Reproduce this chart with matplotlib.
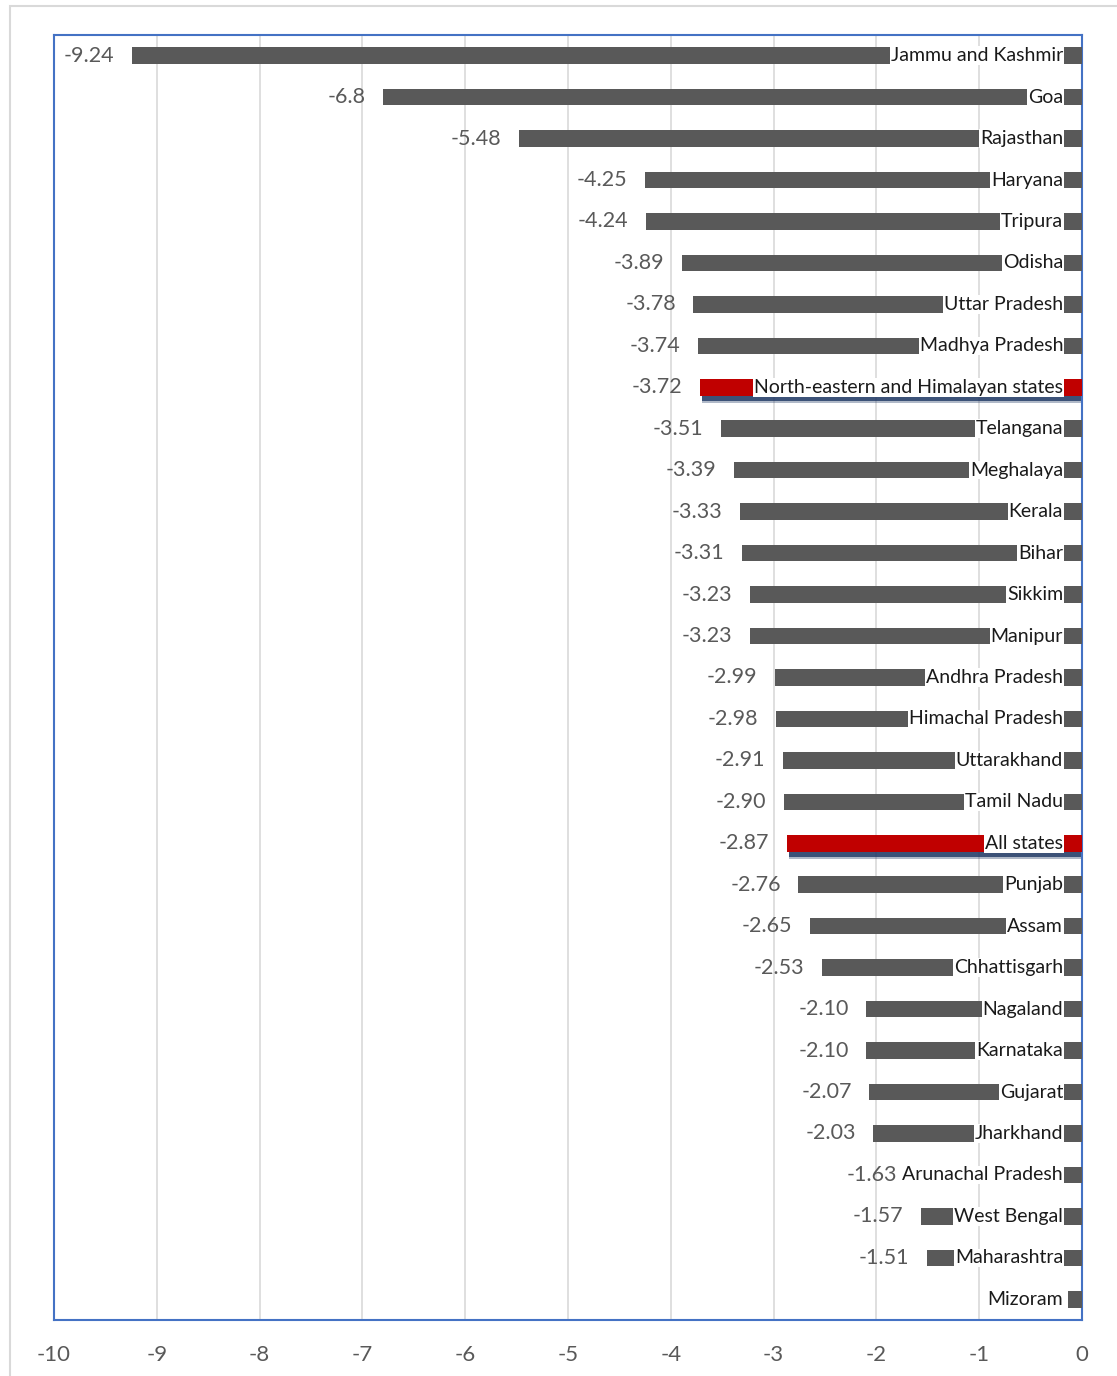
import numpy as np
from matplotlib import pyplot as plt
from matplotlib.patches import Rectangle

states = ['Jammu and Kashmir', 'Goa', 'Rajasthan', 'Haryana', 'Tripura', 'Odisha',
          'Uttar Pradesh', 'Madhya Pradesh', 'North-eastern and Himalayan states',
          'Telangana', 'Meghalaya', 'Kerala', 'Bihar', 'Sikkim', 'Manipur',
          'Andhra Pradesh', 'Himachal Pradesh', 'Uttarakhand', 'Tamil Nadu',
          'All states', 'Punjab', 'Assam', 'Chhattisgarh', 'Nagaland', 'Karnataka',
          'Gujarat', 'Jharkhand', 'Arunachal Pradesh', 'West Bengal', 'Maharashtra',
          'Mizoram']
values = [-9.24, -6.8, -5.48, -4.25, -4.24, -3.89, -3.78, -3.74, -3.72, -3.51,
          -3.39, -3.33, -3.31, -3.23, -3.23, -2.99, -2.98, -2.91, -2.90, -2.87,
          -2.76, -2.65, -2.53, -2.10, -2.10, -2.07, -2.03, -1.63, -1.57, -1.51,
          -0.14]
value_labels = ['-9.24', '-6.8', '-5.48', '-4.25', '-4.24', '-3.89', '-3.78', '-3.74',
                '-3.72', '-3.51', '-3.39', '-3.33', '-3.31', '-3.23', '-3.23', '-2.99',
                '-2.98', '-2.91', '-2.90', '-2.87', '-2.76', '-2.65', '-2.53', '-2.10',
                '-2.10', '-2.07', '-2.03', '-1.63', '-1.57', '-1.51', '']
highlight = ['North-eastern and Himalayan states', 'All states']

plt.rcParams['font.family'] = ['Lato', 'DejaVu Sans']
plt.rcParams['axes.unicode_minus'] = False

fig = plt.figure(figsize=(11.17, 13.76), dpi=100)
ax = fig.add_axes([0.0483, 0.0407, 0.9204, 0.9339])

# outer light frame
fig.patches.append(Rectangle((0.009, -0.01), 1.1, 1.0056, transform=fig.transFigure,
                             fill=False, edgecolor='#D9D9D9', linewidth=1.5))

y = np.arange(len(states))
colors = ['#C00000' if s in highlight else '#595959' for s in states]

# shadow under the highlighted bars
for i, s in enumerate(states):
    if s in highlight:
        ax.barh(i + 0.2, values[i] + 0.02, height=0.38, color='#1F3864', alpha=0.35, zorder=2)
        ax.barh(i + 0.15, values[i] + 0.02, height=0.38, color='#1F3864', alpha=0.8, zorder=2)

ax.barh(y, values, height=0.4, color=colors, zorder=3)

for i, s in enumerate(states):
    ax.text(-0.185, i, s, ha='right', va='center', fontsize=14, color='#1a1a1a', zorder=5,
            bbox=dict(facecolor='white', edgecolor='none', pad=0.5))
    if value_labels[i]:
        ax.text(values[i] - 0.17, i, value_labels[i], ha='right', va='center',
                fontsize=15.5, color='#595959', zorder=5)

ax.set_xlim(-10, 0)
ax.set_ylim(len(states) - 0.5, -0.5)
ax.set_xticks(range(-10, 1))
ax.set_yticks([])
ax.grid(axis='x', color='#D9D9D9', linewidth=1.2, zorder=0)
ax.set_axisbelow(True)
for sp in ax.spines.values():
    sp.set_color('#4472C4')
    sp.set_linewidth(1.5)
ax.tick_params(axis='x', length=0, labelsize=16, labelcolor='#595959', pad=18)

plt.savefig('out.png', dpi=100)
